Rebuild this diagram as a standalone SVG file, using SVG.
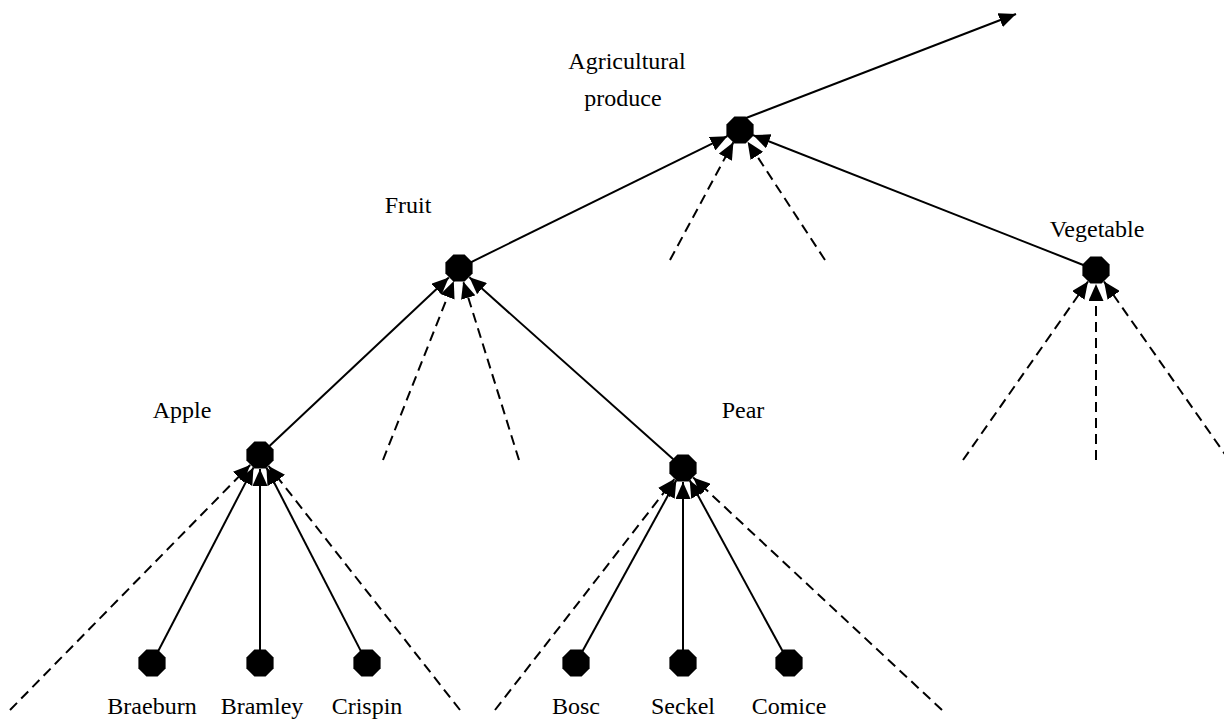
<svg xmlns="http://www.w3.org/2000/svg" width="1224" height="722" viewBox="0 0 1224 722">
  <defs>
    <marker id="head" markerUnits="userSpaceOnUse" markerWidth="17" markerHeight="15" refX="17" refY="7.5" orient="auto">
      <path d="M0,0 L17,7.5 L0,15 z" fill="#000"/>
    </marker>
    <polygon id="oct" points="-5.6,-13.6 5.6,-13.6 13.6,-5.6 13.6,5.6 5.6,13.6 -5.6,13.6 -13.6,5.6 -13.6,-5.6" fill="#000"/>
  </defs>
  <style>
    .edge { stroke: #000; stroke-width: 2; fill: none; marker-end: url(#head); }
    .dash { stroke-dasharray: 10 6; }
    .lbl { font-family: "Liberation Serif", "Times New Roman", serif; font-size: 24px; fill: #000; text-anchor: middle; }
  </style>
  <rect width="1224" height="722" fill="#fff"/>

  <g id="connectors">
    <!-- upward link out of the root -->
    <line class="edge" x1="746" y1="118" x2="1016" y2="14"/>
    <!-- into root -->
    <line class="edge" x1="470.7" y1="262.3" x2="727.4" y2="136.2"/>
    <line class="edge" x1="1083.9" y1="265.2" x2="753" y2="135.1"/>
    <line class="edge dash" x1="670" y1="260" x2="733.4" y2="142.3"/>
    <line class="edge dash" x1="825" y1="260" x2="747.6" y2="141.7"/>
    <!-- into Fruit -->
    <line class="edge" x1="269.5" y1="446.1" x2="448.8" y2="277.6"/>
    <line class="edge" x1="673.3" y1="459.3" x2="469.4" y2="277.3"/>
    <line class="edge dash" x1="383" y1="460" x2="453.8" y2="281"/>
    <line class="edge dash" x1="519" y1="460" x2="463.2" y2="281.4"/>
    <!-- into Vegetable -->
    <line class="edge dash" x1="963" y1="460" x2="1088" y2="281.5"/>
    <line class="edge dash" x1="1096" y1="460" x2="1096" y2="284"/>
    <line class="edge dash" x1="1229" y1="460" x2="1104" y2="281.5"/>
    <!-- into Apple -->
    <line class="edge dash" x1="10" y1="710" x2="250.2" y2="465"/>
    <line class="edge" x1="158" y1="651.5" x2="253.5" y2="467.4"/>
    <line class="edge" x1="260" y1="650" x2="260" y2="469"/>
    <line class="edge" x1="361" y1="651.4" x2="266.4" y2="467.5"/>
    <line class="edge dash" x1="460" y1="710" x2="268.6" y2="466"/>
    <!-- into Pear -->
    <line class="edge dash" x1="495" y1="710" x2="674.4" y2="479.1"/>
    <line class="edge" x1="582.3" y1="651.6" x2="676.3" y2="480.3"/>
    <line class="edge" x1="683" y1="650" x2="683" y2="482"/>
    <line class="edge" x1="782.8" y1="651.6" x2="689.7" y2="480.3"/>
    <line class="edge dash" x1="942" y1="710" x2="693.2" y2="477.6"/>
  </g>

  <g id="produce"><use href="#oct" x="740" y="130"/><text class="lbl" x="627" y="69">Agricultural</text><text class="lbl" x="623" y="106">produce</text></g>
  <g id="fruit"><use href="#oct" x="459" y="268"/><text class="lbl" x="408" y="213">Fruit</text></g>
  <g id="vegetable"><use href="#oct" x="1096" y="270"/><text class="lbl" x="1097" y="237">Vegetable</text></g>
  <g id="apple"><use href="#oct" x="260" y="455"/><text class="lbl" x="182" y="418">Apple</text></g>
  <g id="pear"><use href="#oct" x="683" y="468"/><text class="lbl" x="743" y="418">Pear</text></g>
  <g id="braeburn"><use href="#oct" x="152" y="663"/><text class="lbl" x="152" y="714">Braeburn</text></g>
  <g id="bramley"><use href="#oct" x="260" y="663"/><text class="lbl" x="262" y="714">Bramley</text></g>
  <g id="crispin"><use href="#oct" x="367" y="663"/><text class="lbl" x="367" y="714">Crispin</text></g>
  <g id="bosc"><use href="#oct" x="576" y="663"/><text class="lbl" x="576" y="714">Bosc</text></g>
  <g id="seckel"><use href="#oct" x="683" y="663"/><text class="lbl" x="683" y="714">Seckel</text></g>
  <g id="comice"><use href="#oct" x="789" y="663"/><text class="lbl" x="789" y="714">Comice</text></g>
</svg>
